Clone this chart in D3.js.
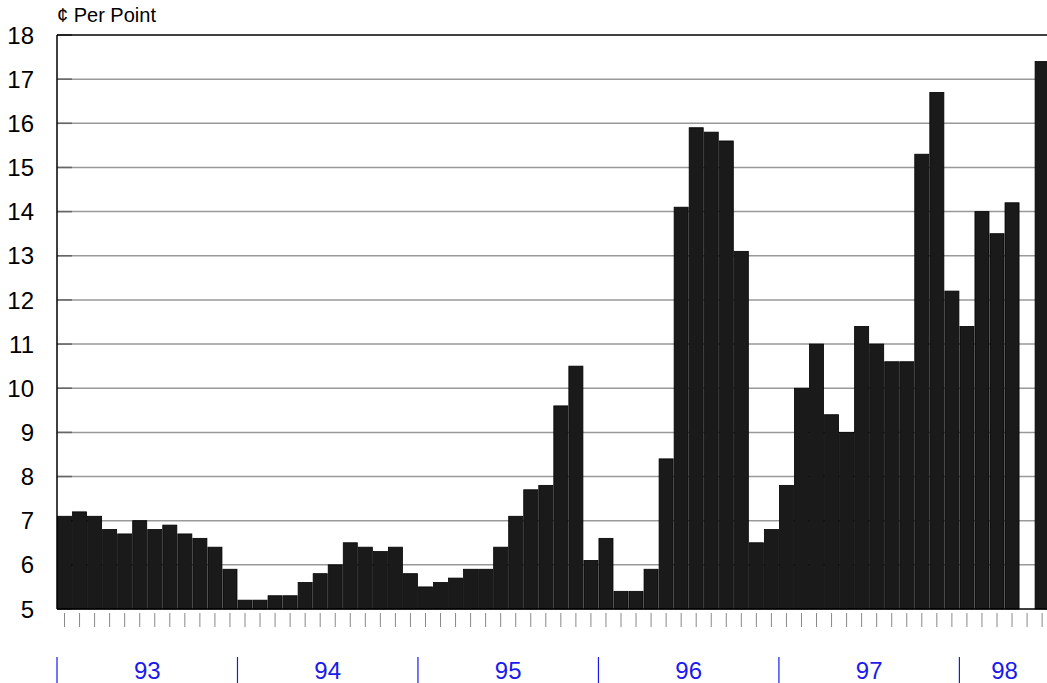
<!DOCTYPE html>
<html><head><meta charset="utf-8">
<script src="https://cdn.jsdelivr.net/npm/d3@7/dist/d3.min.js"></script>
<style>body{margin:0;background:#fff;overflow:hidden}</style>
</head><body><svg id="c" width="1047" height="683"></svg>
<script>
const years = ["93","94","95","96","97","98"];
const monthsPerYear = [12,12,12,12,12,6];
const values = [
  7.1,7.2,7.1,6.8,6.7,7.0,6.8,6.9,6.7,6.6,6.4,5.9,
  5.2,5.2,5.3,5.3,5.6,5.8,6.0,6.5,6.4,6.3,6.4,5.8,
  5.5,5.6,5.7,5.9,5.9,6.4,7.1,7.7,7.8,9.6,10.5,6.1,
  6.6,5.4,5.4,5.9,8.4,14.1,15.9,15.8,15.6,13.1,6.5,6.8,
  7.8,10.0,11.0,9.4,9.0,11.4,11.0,10.6,10.6,15.3,16.7,12.2,
  11.4,14.0,13.5,14.2,null,17.4
];
const yTicks = [5,6,7,8,9,10,11,12,13,14,15,16,17,18];
const yTitle = "¢ Per Point";

(function(){
const svg = d3.select("#c");
const pL = 57, pT = 35, pB = 609, monthW = 15.04;
const n = values.length;
const font = "Liberation Sans, Arial, sans-serif";
const x = d3.scaleBand().domain(d3.range(n)).range([pL, pL + n*monthW]).paddingInner(0).paddingOuter(0);
const y = d3.scaleLinear().domain([5,18]).range([pB, pT]);

svg.append("g").selectAll("line").data(yTicks.filter(t=>t>5 && t<18)).join("line")
  .attr("x1", pL).attr("x2", 1047).attr("y1", d=>y(d)).attr("y2", d=>y(d))
  .attr("stroke", "#999").attr("stroke-width", 1.5);
svg.append("g").selectAll("line").data(yTicks).join("line")
  .attr("x1", pL).attr("x2", pL+15).attr("y1", d=>y(d)).attr("y2", d=>y(d))
  .attr("stroke", "#666").attr("stroke-width", 1.5);

svg.append("g").selectAll("rect").data(values.map((v,i)=>({v,i})).filter(d=>d.v!=null)).join("rect")
  .attr("x", d=>x(d.i)+0.5).attr("width", x.bandwidth()-1)
  .attr("y", d=>y(d.v)).attr("height", d=>y(5)-y(d.v))
  .attr("fill", "#1a1a1a").attr("stroke", "#000").attr("stroke-width", 0.8);

svg.append("line").attr("x1", pL).attr("x2", 1047).attr("y1", pT).attr("y2", pT).attr("stroke", "#000").attr("stroke-width", 1.5);
svg.append("line").attr("x1", pL).attr("x2", pL).attr("y1", pT).attr("y2", pB).attr("stroke", "#000").attr("stroke-width", 1.5);
svg.append("line").attr("x1", pL).attr("x2", 1047).attr("y1", pB).attr("y2", pB).attr("stroke", "#000").attr("stroke-width", 1.5);

svg.append("g").selectAll("text").data(yTicks).join("text")
  .attr("x", 34).attr("y", d=>y(d)).attr("dy", "0.36em").attr("text-anchor", "end")
  .attr("font-family", font).attr("font-size", 24).attr("fill", "#000")
  .text(d=>d);
svg.append("text").attr("x", 57).attr("y", 22).attr("font-family", font)
  .attr("font-size", 20).attr("fill", "#000").text(yTitle);

svg.append("g").selectAll("line").data(d3.range(n)).join("line")
  .attr("x1", d=>x(d)+x.bandwidth()/2).attr("x2", d=>x(d)+x.bandwidth()/2)
  .attr("y1", 613).attr("y2", 627).attr("stroke", "#888").attr("stroke-width", 1);

let starts = [0];
monthsPerYear.forEach((m,i)=>starts.push(starts[i]+m));
svg.append("g").selectAll("line").data(years).join("line")
  .attr("x1", (d,i)=>x(starts[i])).attr("x2", (d,i)=>x(starts[i]))
  .attr("y1", 657).attr("y2", 683).attr("stroke", "#1a1aee").attr("stroke-width", 1.2);
svg.append("g").selectAll("text").data(years).join("text")
  .attr("x", (d,i)=>x(starts[i]) + monthsPerYear[i]*monthW/2).attr("y", 679)
  .attr("text-anchor", "middle").attr("font-family", font)
  .attr("font-size", 24).attr("fill", "#1a1aee").text(d=>d);
})();
</script></body></html>
